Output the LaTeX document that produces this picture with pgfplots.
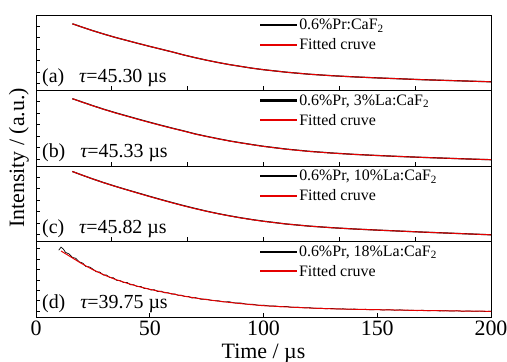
\documentclass[border=0pt]{standalone}
\usepackage{fontspec}
\setmainfont{Liberation Serif}
\usepackage{pgfplots}
\pgfplotsset{compat=1.18}
\pgfplotsset{
 panel/.style={
  scale only axis, width=455bp, height=75.5bp,
  xmin=0, xmax=200, ymin=0, ymax=75.5,
  anchor=south west,
  tick pos=left, tick align=inside,
  major tick length=4bp,
  axis line style={line width=0.9pt},
  every tick/.style={line width=0.8pt, black},
  yticklabels={},
  legend style={draw=none, fill=none, at={(0.492,0.975)}, anchor=north west,
    font=\fontsize{16}{18}\selectfont, row sep=3.5bp, inner sep=0pt, cells={anchor=west}},
  legend image code/.code={\fill[##1] (0bp,-0.55bp) rectangle (36bp,0.55bp);},
  /pgf/number format/assume math mode=true,
 },
 topx/.style={xtick={33.333,66.667,100,133.333,166.667}, xticklabels={}},
 yt1/.style={ytick={7,18.5,30,41.5,53,64.5}},
 blk/.style={black, line width=1.2pt},
 rd/.style={red!90!black, line width=1.0pt},
}
\newcommand{\lab}[2]{\node[anchor=base west, font=\fontsize{20}{22}\selectfont, inner sep=0pt] at (rel axis cs:0.013,0.106) {(#1)\hspace{15bp}{\itshape τ}=#2 µs};}
\begin{document}
\begin{tikzpicture}
\useasboundingbox (0,0) rectangle (507bp,362bp);
% panel a
\begin{axis}[panel, topx, yt1, at={(36bp,271.5bp)}]
\addplot[blk] coordinates {(16,66.7)(20,63.6)(25,59.8)(30,56.3)(35,53)(40,50)(45,47)(50,44.1)(55,41.3)(60,38.5)(65,35.5)(70,32.8)(75,30.3)(80,28)(85,25.9)(90,24.1)(95,22.3)(100,20.8)(110,18.3)(120,16.3)(130,14.8)(140,13.6)(150,12.6)(160,11.7)(170,10.8)(180,10.1)(190,9.4)(200,8.7)};
\addlegendentry{0.6\%Pr:CaF\textsubscript{2}}
\addplot[rd] coordinates {(16,66.7)(20,63.6)(25,59.8)(30,56.3)(35,53)(40,50)(45,47)(50,44.1)(55,41.3)(60,38.5)(65,35.5)(70,32.8)(75,30.3)(80,28)(85,25.9)(90,24.1)(95,22.3)(100,20.8)(110,18.3)(120,16.3)(130,14.8)(140,13.6)(150,12.6)(160,11.7)(170,10.8)(180,10.1)(190,9.4)(200,8.7)};
\addlegendentry{Fitted cruve}
\lab{a}{45.30}
\end{axis}
% panel b
\begin{axis}[panel, topx, yt1, at={(36bp,196bp)}]
\addplot[blk] coordinates {(16,67.3)(20,64.2)(25,60.3)(30,56.6)(35,53.2)(40,50)(45,46.8)(50,43.7)(55,40.7)(60,37.8)(65,35.0)(70,32.1)(75,29.6)(80,27.3)(85,25.1)(90,23.2)(95,21.4)(100,19.7)(110,16.9)(120,14.7)(130,13.0)(140,11.6)(150,10.5)(160,9.5)(170,8.6)(180,7.8)(190,7)(200,6.3)};
\addlegendentry{0.6\%Pr, 3\%La:CaF\textsubscript{2}}
\addplot[rd] coordinates {(16,67.3)(20,64.1)(25,60.2)(30,56.5)(35,53.0)(40,49.8)(45,46.6)(50,43.5)(55,40.5)(60,37.6)(65,34.9)(70,31.9)(75,29.5)(80,27.2)(85,25)(90,23.1)(95,21.3)(100,19.6)(110,16.8)(120,14.6)(130,12.9)(140,11.6)(150,10.5)(160,9.5)(170,8.6)(180,7.8)(190,7)(200,6.3)};
\addlegendentry{Fitted cruve}
\lab{b}{45.33}
\end{axis}
% panel c
\begin{axis}[panel, topx, yt1, at={(36bp,120.5bp)}]
\addplot[blk] coordinates {(16,70)(20,66.6)(25,62.5)(30,58.7)(35,55.1)(40,51.7)(45,48.4)(50,45.1)(55,41.9)(60,38.8)(65,35.8)(70,33.0)(75,30.3)(80,27.9)(85,25.7)(90,23.7)(95,21.9)(100,20.3)(110,17.5)(120,15.4)(130,13.8)(140,12.5)(150,11.4)(160,10.4)(170,9.4)(180,8.5)(190,7.6)(200,6.7)};
\addlegendentry{0.6\%Pr, 10\%La:CaF\textsubscript{2}}
\addplot[rd] coordinates {(16,70)(20,66.6)(25,62.5)(30,58.6)(35,55)(40,51.6)(45,48.2)(50,44.9)(55,41.7)(60,38.6)(65,35.6)(70,32.8)(75,30.2)(80,27.8)(85,25.6)(90,23.6)(95,21.8)(100,20.2)(110,17.5)(120,15.4)(130,13.8)(140,12.5)(150,11.4)(160,10.4)(170,9.4)(180,8.5)(190,7.6)(200,6.7)};
\addlegendentry{Fitted cruve}
\lab{c}{45.82}
\end{axis}
% panel d
\begin{axis}[panel, at={(36bp,45bp)}, xtick={0,50,100,150,200},
  ytick={6,16.3,26.6,37,47.4,57.8,68.2},
  xticklabel style={font=\fontsize{22}{24}\selectfont}]
\addplot[black, line width=0.7pt] coordinates {(10.0,66.8)(11.0,69.8)(12.0,68.0)(13.0,64.6)(14.5,63.1)(16.0,59.6)(17.5,58.7)(19.0,55.2)(20.5,53.9)(22.0,50.4)(23.5,50.1)(25.0,47.9)(26.5,45.2)(28.0,45.0)(29.5,42.1)(31.0,41.9)(32.5,39.4)(34.0,39.2)(35.5,36.6)(37.0,36.4)(38.5,34.5)(40.0,34.6)(41.5,32.3)(43.0,32.2)(44.5,30.4)(46.0,30.6)(47.5,28.6)(49.0,28.5)(50.5,27.0)(52.0,27.3)(53.5,25.4)(55.0,25.9)(56.5,24.2)(58.0,24.3)(59.5,23.0)(61.0,23.1)(62.5,21.6)(64.0,21.7)(65.5,20.4)(67.0,20.6)(68.5,19.0)(70.0,19.4)(72.5,17.8)(75.0,17.8)(77.5,16.4)(80.0,16.3)(82.5,15.1)(85.0,15.2)(87.5,14.0)(90.0,14.0)(92.5,12.9)(95.0,12.9)(97.5,11.8)(100,11.9)(102.5,11.0)(105,11.1)(107.5,10.2)(110,10.6)(112.5,9.6)(115,9.9)(117.5,9.2)(120,9.4)(122.5,8.6)(125,8.9)(127.5,8.2)(130,8.6)(132.5,7.9)(135,8.2)(137.5,7.6)(140,8.0)(142.5,7.4)(145,7.7)(147.5,7.1)(150,7.6)(152.5,7.0)(155,7.3)(157.5,6.8)(160,7.2)(162.5,6.6)(165,6.9)(167.5,6.3)(170,6.8)(172.5,6.2)(175,6.6)(177.5,6.0)(180,6.4)(182.5,5.9)(185,6.2)(187.5,5.7)(190,6.1)(192.5,5.6)(195,5.9)(197.5,5.5)(200,5.8)};
\addlegendentry{0.6\%Pr, 18\%La:CaF\textsubscript{2}}
\addplot[rd] coordinates {(11,66)(15,60.5)(20,53.5)(25,47.3)(30,42)(35,37.5)(40,33.8)(45,30.5)(50,27.7)(55,25.3)(60,23.1)(65,20.9)(70,19)(75,17.4)(80,15.9)(85,14.6)(90,13.4)(95,12.3)(100,11.3)(110,10.1)(120,9.0)(130,8.2)(140,7.7)(150,7.3)(160,6.9)(170,6.5)(180,6.2)(190,5.9)(200,5.7)};
\addlegendentry{Fitted cruve}
\lab{d}{39.75}
\end{axis}
\node[rotate=90, font=\fontsize{22}{24}\selectfont] at (19bp,204bp) {Intensity / (a.u.)};
\node[anchor=base, font=\fontsize{22}{24}\selectfont] at (263.5bp,3.5bp) {Time / µs};
\end{tikzpicture}
\end{document}
